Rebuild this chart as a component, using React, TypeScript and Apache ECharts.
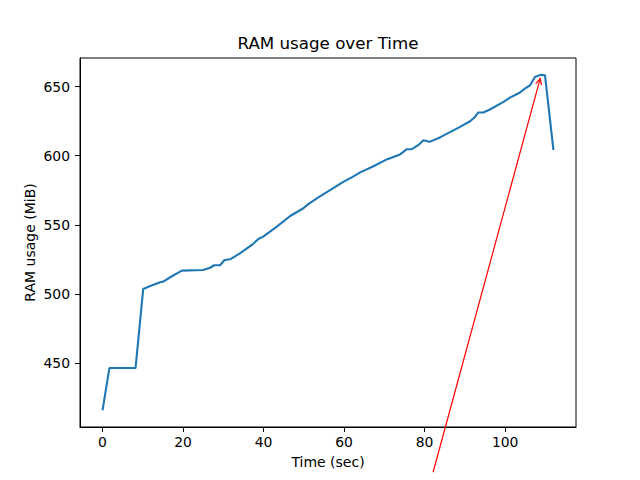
import React, { useEffect, useRef } from "react";
import * as echarts from "echarts";

// RAM usage samples
const timeSec: number[] = [
  0, 1.7, 8.2, 10.1, 12, 14.3, 15.1, 17, 19.7, 25, 26.7, 27.7, 29.2, 30.3, 31.7,
  34.2, 37.1, 38.7, 39.9, 43.3, 46.6, 49.9, 51.1, 53.6, 56.5, 59.8, 62, 64,
  67.3, 70.6, 73.9, 75.6, 76.8, 78.4, 79.7, 81.2, 83.8, 88.8, 91.3, 92.5, 93.3,
  94.6, 96.2, 99.6, 101.2, 103.7, 104.9, 106.2, 107.4, 108.7, 109.9, 112,
];
const ramMiB: number[] = [
  416, 446.5, 446.5, 503.7, 506, 508.5, 509, 512.5, 516.9, 517.4, 519, 520.8,
  520.8, 524.6, 525.1, 529.5, 535.5, 539.8, 541.5, 548.7, 556.4, 562, 565,
  569.9, 575.1, 581.1, 584.5, 587.9, 592.4, 597.3, 600.9, 604.7, 604.7, 607.6,
  611.2, 610, 613.2, 620.8, 624.9, 628, 631.2, 631.2, 633.4, 638.9, 642, 645.7,
  648.5, 650.9, 656.9, 658.4, 658.1, 604,
];

const xTicks: number[] = [0, 20, 40, 60, 80, 100];
const yTicks: number[] = [450, 500, 550, 600, 650];

// annotation arrow: [fromTime, fromRam, toTime, toRam]
const arrow: number[] = [82.1, 371.2, 108.7, 655.7];

const titleText = "RAM usage over Time";
const xName = "Time (sec)";
const yName = "RAM usage (MiB)";

const FONT = "DejaVu Sans";

export default function App() {
  const ref = useRef<HTMLDivElement>(null);
  useEffect(() => {
    if (!ref.current) return;
    const chart = echarts.init(ref.current, undefined, { renderer: "svg" });
    const lineData = timeSec.map((t, i) => [t, ramMiB[i]]);
    const axisCommon = {
      axisLine: { show: true, onZero: false, lineStyle: { color: "#000", width: 1 } },
      axisTick: { show: true, inside: false, length: 5, lineStyle: { color: "#000", width: 1 } },
      splitLine: { show: false },
      nameMoveOverlap: false,
      nameTextStyle: { color: "#000", fontFamily: FONT, fontSize: 14 },
    };
    chart.setOption({
      animation: false,
      backgroundColor: "#fff",
      textStyle: { fontFamily: FONT },
      grid: {
        left: 80,
        right: 64,
        top: 58,
        bottom: 53,
        show: true,
        borderColor: "#000",
        borderWidth: 1,
        backgroundColor: "transparent",
        containLabel: false,
      },
      graphic: [
        {
          type: "text",
          x: 328,
          y: 43,
          style: {
            text: titleText,
            font: `16.7px "${FONT}"`,
            fill: "#000",
            textAlign: "center",
            textVerticalAlign: "middle",
            align: "center",
            verticalAlign: "middle",
          },
        },
      ],
      xAxis: {
        type: "value",
        min: -5.6,
        max: 117.6,
        name: xName,
        nameLocation: "middle",
        nameGap: 28,
        ...axisCommon,
        axisTick: { ...axisCommon.axisTick, customValues: xTicks },
        axisLabel: {
          customValues: xTicks,
          color: "#000",
          fontFamily: FONT,
          fontSize: 13.9,
          margin: 8,
        },
      },
      yAxis: {
        type: "value",
        min: 403.9,
        max: 670.6,
        name: yName,
        nameLocation: "middle",
        nameGap: 43,
        ...axisCommon,
        axisTick: { ...axisCommon.axisTick, customValues: yTicks },
        axisLabel: {
          customValues: yTicks,
          color: "#000",
          fontFamily: FONT,
          fontSize: 13.9,
          margin: 10,
        },
      },
      series: [
        {
          type: "line",
          data: lineData,
          showSymbol: false,
          symbol: "none",
          lineStyle: { color: "#1f77b4", width: 2.1 },
          itemStyle: { color: "#1f77b4" },
          clip: true,
          z: 2,
        },
        {
          type: "custom",
          data: [arrow],
          clip: false,
          silent: true,
          z: 3,
          encode: { x: [0, 2], y: [1, 3] },
          renderItem: (params: any, api: any) => {
            const p0 = api.coord([api.value(0), api.value(1)]);
            const p1 = api.coord([api.value(2), api.value(3)]);
            const dx = p1[0] - p0[0];
            const dy = p1[1] - p0[1];
            const len = Math.sqrt(dx * dx + dy * dy);
            const ux = dx / len;
            const uy = dy / len;
            const hl = 6;
            const hw = 3;
            const bx = p1[0] - ux * hl;
            const by = p1[1] - uy * hl;
            const left = [bx - uy * hw, by + ux * hw];
            const right = [bx + uy * hw, by - ux * hw];
            return {
              type: "group",
              children: [
                {
                  type: "line",
                  shape: { x1: p0[0], y1: p0[1], x2: p1[0], y2: p1[1] },
                  style: { stroke: "#ff0000", lineWidth: 1.2 },
                },
                {
                  type: "polyline",
                  shape: { points: [left, p1, right] },
                  style: { stroke: "#ff0000", lineWidth: 1.2, fill: "none" },
                },
              ],
            };
          },
        },
      ],
    });
    return () => chart.dispose();
  }, []);
  return (
    <div
      ref={ref}
      style={{ position: "fixed", left: 0, top: 0, width: 640, height: 480, background: "#fff" }}
    />
  );
}
